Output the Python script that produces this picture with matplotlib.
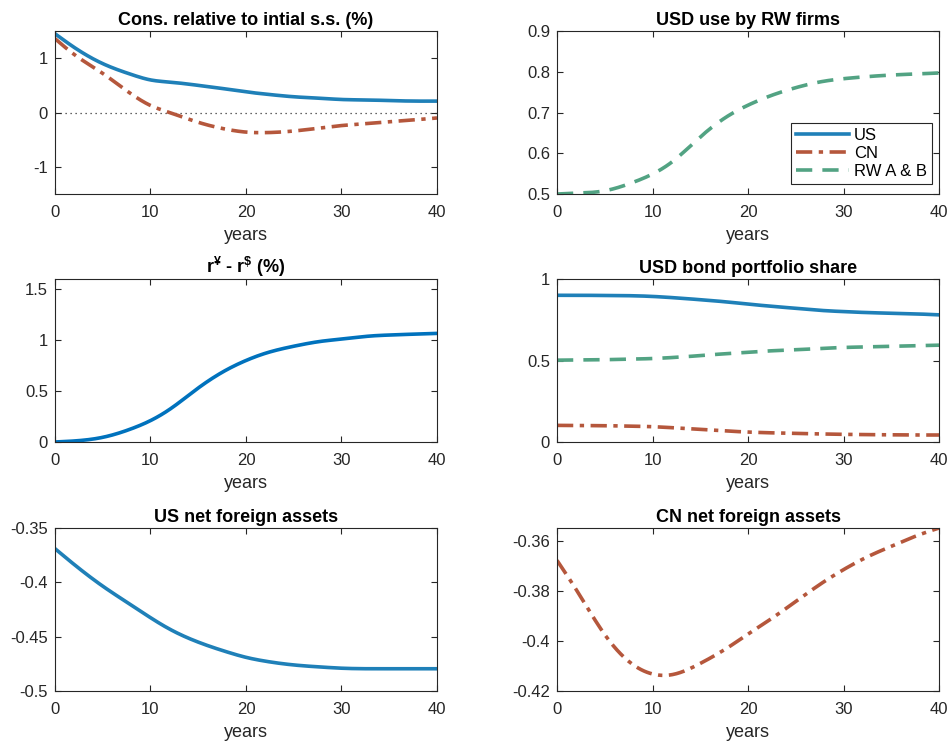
import numpy as np
import matplotlib
matplotlib.use('Agg')
import matplotlib.pyplot as plt

plt.rcParams['font.family'] = ['Liberation Sans', 'DejaVu Sans']
plt.rcParams['mathtext.fontset'] = 'custom'
plt.rcParams['mathtext.rm'] = 'Liberation Sans:bold'
plt.rcParams['mathtext.bf'] = 'Liberation Sans:bold'
plt.rcParams['axes.unicode_minus'] = False
plt.rcParams['axes.edgecolor'] = '#262626'
plt.rcParams['xtick.color'] = '#262626'
plt.rcParams['ytick.color'] = '#262626'

# Simulated transition paths (years after the shock)
years = [0, 2, 5, 8, 10, 12, 15, 18, 20, 22, 25, 28, 30, 33, 35, 38, 40]

cons_us = [1.45, 1.20, 0.90, 0.70, 0.60, 0.56, 0.50, 0.43, 0.38, 0.34, 0.29, 0.26, 0.24, 0.23, 0.22, 0.21, 0.21]
cons_cn = [1.36, 1.07, 0.72, 0.34, 0.13, 0.00, -0.18, -0.31, -0.36, -0.37, -0.34, -0.28, -0.24, -0.20, -0.17, -0.13, -0.10]

usd_use_rw = [0.500, 0.502, 0.508, 0.529, 0.549, 0.578, 0.640, 0.693, 0.718, 0.738, 0.761, 0.777, 0.783, 0.789, 0.792, 0.795, 0.797]

rate_gap = [0.0, 0.010, 0.046, 0.13, 0.21, 0.32, 0.53, 0.71, 0.80, 0.87, 0.94, 0.99, 1.01, 1.04, 1.05, 1.06, 1.066]

share_us = [0.900, 0.900, 0.899, 0.897, 0.893, 0.886, 0.873, 0.858, 0.846, 0.835, 0.820, 0.806, 0.800, 0.793, 0.790, 0.785, 0.780]
share_cn = [0.102, 0.101, 0.100, 0.097, 0.094, 0.088, 0.078, 0.067, 0.061, 0.057, 0.053, 0.049, 0.047, 0.045, 0.044, 0.043, 0.043]
share_rw = [0.502, 0.503, 0.505, 0.509, 0.512, 0.518, 0.530, 0.543, 0.550, 0.558, 0.566, 0.575, 0.580, 0.584, 0.587, 0.591, 0.594]

nfa_us = [-0.369, -0.3835, -0.4035, -0.421, -0.4325, -0.443, -0.455, -0.464, -0.469, -0.4725, -0.476, -0.478, -0.479, -0.4795, -0.4795, -0.4795, -0.4795]
nfa_cn = [-0.3679, -0.3795, -0.3975, -0.4096, -0.4132, -0.4135, -0.409, -0.4024, -0.3973, -0.3923, -0.3843, -0.3763, -0.3716, -0.3656, -0.3623, -0.3576, -0.355]

c_us = '#1f80b8'
c_cn = '#b5573c'
c_rw = '#52a383'
c_gap = '#0072bd'
lw = 2.6
ls_cn = (0, (4.5, 1.8, 1.2, 1.8))
ls_rw = (0, (4.5, 2.8))

t_fine = np.linspace(0, 40, 401)


def smooth(y):
    # natural cubic spline through the tabulated points
    x = np.array(years, float)
    y = np.array(y, float)
    n = len(x)
    h = np.diff(x)
    A = np.zeros((n, n))
    b = np.zeros(n)
    A[0, 0] = A[-1, -1] = 1.0
    for i in range(1, n - 1):
        A[i, i - 1] = h[i - 1]
        A[i, i] = 2 * (h[i - 1] + h[i])
        A[i, i + 1] = h[i]
        b[i] = 6 * ((y[i + 1] - y[i]) / h[i] - (y[i] - y[i - 1]) / h[i - 1])
    M = np.linalg.solve(A, b)
    k = np.clip(np.searchsorted(x, t_fine, side='right') - 1, 0, n - 2)
    x0, x1, hk = x[k], x[k + 1], h[k]
    return (M[k] * (x1 - t_fine) ** 3 / (6 * hk) + M[k + 1] * (t_fine - x0) ** 3 / (6 * hk)
            + (y[k] / hk - M[k] * hk / 6) * (x1 - t_fine)
            + (y[k + 1] / hk - M[k + 1] * hk / 6) * (t_fine - x0))


fig = plt.figure(figsize=(9.51, 7.42), dpi=100)

cols = [0.0578, 0.5857]
rows = [0.7385, 0.4043, 0.0687]
w, h = 0.4017, 0.2197


def make_ax(r, c):
    ax = fig.add_axes([cols[c], rows[r], w, h])
    ax.set_xlim(0, 40)
    ax.set_xticks([0, 10, 20, 30, 40])
    ax.tick_params(direction='in', top=True, right=True, labelsize=12,
                   length=4, width=0.8)
    ax.tick_params(axis='x', pad=8)
    ax.tick_params(axis='y', pad=5)
    for s in ax.spines.values():
        s.set_linewidth(0.8)
    ax.set_xlabel('years', fontsize=13, color='#262626', labelpad=5)
    return ax


def title(ax, text):
    ax.set_title(text, fontsize=13, fontweight='bold', pad=4)


ax = make_ax(0, 0)
ax.axhline(0, color='#333333', lw=0.9, ls=(0, (1, 3)))
ax.plot(t_fine, smooth(cons_us), color=c_us, lw=lw)
ax.plot(t_fine, smooth(cons_cn), color=c_cn, lw=lw, ls=ls_cn)
ax.set_ylim(-1.5, 1.5)
ax.set_yticks([-1, 0, 1])
title(ax, 'Cons. relative to intial s.s. (%)')

ax = make_ax(0, 1)
ax.plot([], [], color=c_us, lw=lw, label='US')
ax.plot([], [], color=c_cn, lw=lw, ls=ls_cn, label='CN')
ax.plot(t_fine, smooth(usd_use_rw), color=c_rw, lw=lw, ls=ls_rw, label='RW A & B')
ax.set_ylim(0.5, 0.9)
ax.set_yticks([0.5, 0.6, 0.7, 0.8, 0.9])
title(ax, 'USD use by RW firms')
leg = ax.legend(loc='lower right', bbox_to_anchor=(0.982, 0.06), fontsize=12,
                fancybox=False, framealpha=1, edgecolor='#262626',
                handlelength=3.2, handletextpad=0.3, borderpad=0.3,
                labelspacing=0.2, borderaxespad=0)
leg.get_frame().set_linewidth(0.8)

ax = make_ax(1, 0)
ax.plot(t_fine, smooth(rate_gap), color=c_gap, lw=lw)
ax.set_ylim(0, 1.6)
ax.set_yticks([0, 0.5, 1, 1.5])
ax.set_yticklabels(['0', '0.5', '1', '1.5'])
title(ax, r'r$^{¥}$ - r$^{\$}$ (%)')

ax = make_ax(1, 1)
ax.plot(t_fine, smooth(share_us), color=c_us, lw=lw)
ax.plot(t_fine, smooth(share_cn), color=c_cn, lw=lw, ls=ls_cn)
ax.plot(t_fine, smooth(share_rw), color=c_rw, lw=lw, ls=ls_rw)
ax.set_ylim(0, 1)
ax.set_yticks([0, 0.5, 1])
ax.set_yticklabels(['0', '0.5', '1'])
title(ax, 'USD bond portfolio share')

ax = make_ax(2, 0)
ax.plot(t_fine, smooth(nfa_us), color=c_us, lw=lw)
ax.set_ylim(-0.5, -0.35)
ax.set_yticks([-0.5, -0.45, -0.4, -0.35])
ax.set_yticklabels(['-0.5', '-0.45', '-0.4', '-0.35'])
title(ax, 'US net foreign assets')

ax = make_ax(2, 1)
ax.plot(t_fine, smooth(nfa_cn), color=c_cn, lw=lw, ls=ls_cn)
ax.set_ylim(-0.42, -0.355)
ax.set_yticks([-0.42, -0.4, -0.38, -0.36])
ax.set_yticklabels(['-0.42', '-0.4', '-0.38', '-0.36'])
title(ax, 'CN net foreign assets')

fig.savefig('out.png', dpi=100)
